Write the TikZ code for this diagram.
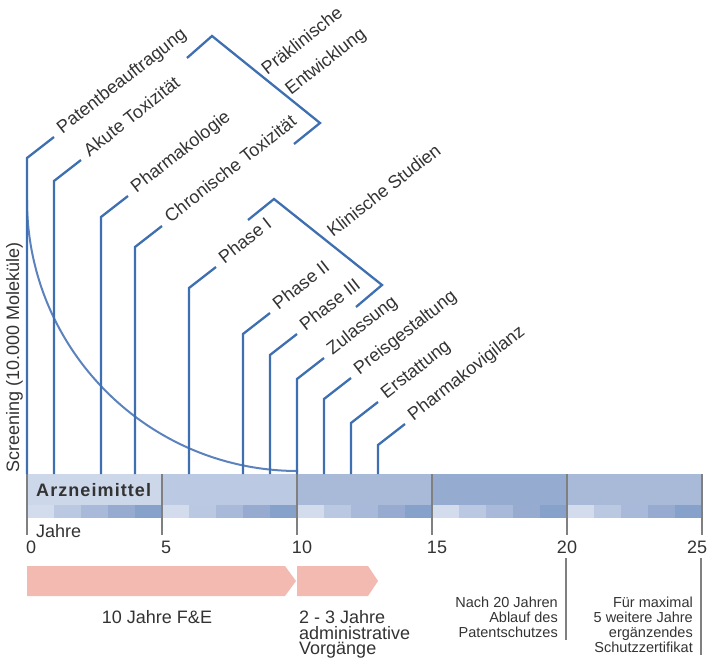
\documentclass[tikz,border=0pt]{standalone}
\usepackage{fontspec}
\setmainfont{Liberation Sans}
\usepackage{tikz}
\usetikzlibrary{positioning, calc}
\definecolor{LeadBlue}{HTML}{3E6FB0}
\definecolor{ArcBlue}{HTML}{5C82BE}
\definecolor{TextGray}{HTML}{333333}
\definecolor{RuleGray}{HTML}{808080}
\definecolor{ArzBg}{HTML}{CDD7EA}
\definecolor{BarA}{HTML}{BCC9E3}
\definecolor{BarB}{HTML}{A9BAD9}
\definecolor{BarC}{HTML}{95ABD0}
\definecolor{CellA}{HTML}{D3DCEC}
\definecolor{CellB}{HTML}{BAC8E2}
\definecolor{CellC}{HTML}{A8B9D9}
\definecolor{CellD}{HTML}{97ABD0}
\definecolor{CellE}{HTML}{86A1CA}
\definecolor{PhaseRed}{HTML}{F2BAB1}

\begin{document}
\begin{tikzpicture}[
  x=1pt, y=-1pt,
  every node/.style={font=\fontsize{18}{20}\selectfont, text=TextGray},
  lbl/.style={rotate=38, anchor=west, inner xsep=8.5pt, inner ysep=0pt,
              text height=10pt, text depth=4pt},
  grp/.style={rotate=38, inner sep=0pt, align=left},
  lead/.style={draw=LeadBlue, line width=2.3pt},
  arcline/.style={draw=ArcBlue, line width=2pt},
  divider/.style={draw=RuleGray, line width=1.2pt},
  yr/.style={anchor=base, inner sep=0pt},
  note/.style={anchor=north east, align=right, inner sep=0pt,
               font=\fontsize{14.5}{15}\selectfont},
  arzbox/.style={anchor=north west, fill=ArzBg, minimum width=135pt, minimum height=31pt,
                 text width=117pt, inner xsep=9pt, inner ysep=0pt, align=left,
                 font=\fontsize{18}{20}\selectfont\bfseries\addfontfeatures{LetterSpace=6}},
  phase/.style={fill=PhaseRed}
]
\useasboundingbox (0,0) rectangle (714,663);

% Zeitleiste
\node[inner sep=0pt, minimum width=675pt, minimum height=44pt, anchor=north west] (bar) at (27,474) {};
\fill[BarA] (162,474) rectangle (297,505);
\fill[BarB] (297,474) rectangle (432,505);
\fill[BarC] (432,474) rectangle (567,505);
\fill[BarB] (567,474) rectangle (702,505);
\foreach \s in {0,...,4} {
  \foreach \c [count=\k from 0] in {CellA,CellB,CellC,CellD,CellE}
    \fill[\c] ({27+135*\s+27*\k},505) rectangle ++(27,13);
}
\node[arzbox] (arz) at (27,474) {Arzneimittel};
\foreach \t in {0,...,5}
  \draw[divider] ({27+135*\t},474) -- ++(0,61);

\node[anchor=base west, inner sep=0pt] (jahre) at (36,537) {Jahre};
\node[yr, anchor=base west] (y0) at (26,553) {0};
\node[yr, anchor=base west] (y5) at (161,553) {5};
\node[yr] (y10) at (302,553) {10};
\node[yr] (y15) at (437,553) {15};
\node[yr] (y20) at (567,553) {20};
\node[yr] (y25) at (697,553) {25};

% Screening
\node[rotate=90, anchor=base west, inner sep=0pt] (screen) at (19,473) {Screening (10.000 Moleküle)};
\draw[arcline] (27,200) arc[start angle=180, end angle=270, radius=271pt];

% Meilensteine
\node[lbl] (patent) at (54,137) {Patentbeauftragung};
\node[lbl] (akut) at (81,160) {Akute Toxizität};
\node[lbl] (pharma) at (128,196) {Pharmakologie};
\node[lbl] (chron) at (162,226) {Chronische Toxizität};
\node[lbl] (ph1) at (216,267) {Phase I};
\node[lbl] (ph2) at (270,313) {Phase II};
\node[lbl] (ph3) at (297,334) {Phase III};
\node[lbl] (zul) at (324,358) {Zulassung};
\node[lbl] (preis) at (351,378) {Preisgestaltung};
\node[lbl] (erst) at (378,402) {Erstattung};
\node[lbl] (vigil) at (405,424) {Pharmakovigilanz};

\draw[lead] (patent.west) -- ++(-27,21) coordinate (patent-c) -- (patent-c |- bar.north);
\draw[lead] (akut.west) -- ++(-27,21) coordinate (akut-c) -- (akut-c |- bar.north);
\draw[lead] (pharma.west) -- ++(-27,21) coordinate (pharma-c) -- (pharma-c |- bar.north);
\draw[lead] (chron.west) -- ++(-27,21) coordinate (chron-c) -- (chron-c |- bar.north);
\draw[lead] (ph1.west) -- ++(-27,21) coordinate (ph1-c) -- (ph1-c |- bar.north);
\draw[lead] (ph2.west) -- ++(-27,21) coordinate (ph2-c) -- (ph2-c |- bar.north);
\draw[lead] (ph3.west) -- ++(-27,21) coordinate (ph3-c) -- (ph3-c |- bar.north);
\draw[lead] (zul.west) -- ++(-27,21) coordinate (zul-c) -- (zul-c |- bar.north);
\draw[lead] (preis.west) -- ++(-27,21) coordinate (preis-c) -- (preis-c |- bar.north);
\draw[lead] (erst.west) -- ++(-27,21) coordinate (erst-c) -- (erst-c |- bar.north);
\draw[lead] (vigil.west) -- ++(-27,21) coordinate (vigil-c) -- (vigil-c |- bar.north);

% Klammern
\draw[lead] (187,58) -- (212,36) -- (320,123) -- (294,144);
\node[grp, anchor=north west, font=\fontsize{18}{30.5}\selectfont] (prae) at (259,65)
  {Präklinische\\\hspace*{6.5pt}Entwicklung};
\draw[lead] (248,220) -- (274,199) -- (382,285) -- (356,307);
\node[grp, anchor=base west] (klin) at (333,238) {Klinische Studien};

% Dauer
\fill[phase] (27,566) -- (285,566) -- (296,581) -- (285,596) -- (27,596) -- cycle;
\fill[phase] (297,566) -- (368,566) -- (378,581) -- (368,596) -- (297,596) -- cycle;
\node[anchor=base, inner sep=0pt] (fe) at (157,623) {10 Jahre F\&E};
\node[anchor=north west, align=left, inner sep=0pt, font=\fontsize{18}{15.5}\selectfont] (admin) at (299,610.5)
  {2 - 3 Jahre\\administrative\\Vorgänge};

% Patentschutz
\node[note] (ablauf) at (558,596.5) {Nach 20 Jahren\\Ablauf des\\Patentschutzes};
\node[note] (zert) at (693,596.5) {Für maximal\\5 weitere Jahre\\ergänzendes\\Schutzzertifikat};
\draw[divider] (566,558) -- (566,640);
\draw[divider] (701,558) -- (701,655);

\end{tikzpicture}
\end{document}
